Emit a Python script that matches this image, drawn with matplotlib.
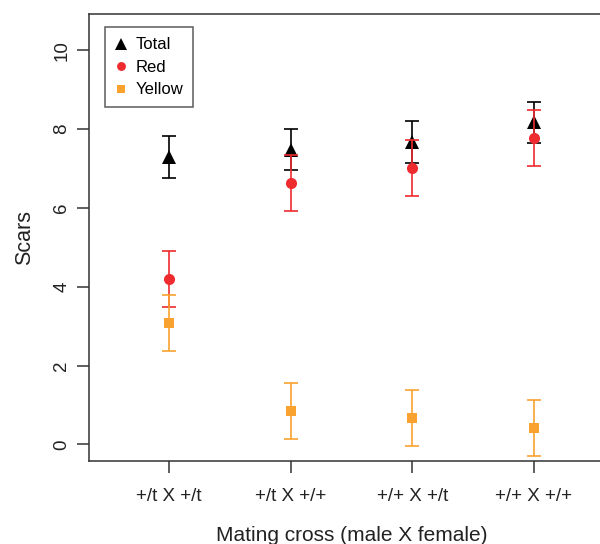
import numpy as np
import matplotlib.pyplot as plt

plt.rcParams['font.family'] = ['Liberation Sans', 'DejaVu Sans']

crosses = ['+/t X +/t', '+/t X +/+', '+/+ X +/t', '+/+ X +/+']
total_mean = [7.29, 7.48, 7.67, 8.17]
total_err = [0.54, 0.53, 0.53, 0.53]
red_mean = [4.19, 6.64, 7.01, 7.77]
red_err = [0.71, 0.71, 0.71, 0.71]
yellow_mean = [3.09, 0.85, 0.68, 0.42]
yellow_err = [0.71, 0.71, 0.71, 0.71]

RED = '#EE2B2F'
ORANGE = '#F9A22F'
AXCOL = '#333333'


def main():
    fig = plt.figure(figsize=(6, 5.44), dpi=100)
    # R-style plot region, right side runs off the picture
    ax = fig.add_axes([89 / 600, 83 / 544, 525 / 600, 447 / 544])
    x = np.arange(1, len(crosses) + 1)

    series = [
        (total_mean, total_err, 'black', '^', 10, 'Total'),
        (red_mean, red_err, RED, 'o', 8, 'Red'),
        (yellow_mean, yellow_err, ORANGE, 's', 7.5, 'Yellow'),
    ]
    for m, e, c, mk, ms, lab in series:
        ax.errorbar(x, m, yerr=e, fmt='none', ecolor=c, elinewidth=1.2,
                    capsize=4.7, capthick=1.2)
        ax.plot(x, m, linestyle='none', marker=mk, color=c, markersize=ms,
                markeredgewidth=0, label=lab)

    ax.set_xlim(0.34, 4.66)
    ax.set_ylim(-0.42, 10.92)
    ax.set_xticks(x)
    ax.set_xticklabels(crosses)
    ax.set_yticks([0, 2, 4, 6, 8, 10])
    ax.set_yticklabels(['0', '2', '4', '6', '8', '10'], rotation=90, va='center')
    ax.tick_params(axis='both', direction='out', length=8.5, width=1.1,
                   color=AXCOL, labelsize=13.5, labelcolor='#222222')
    ax.tick_params(axis='x', pad=11)
    ax.tick_params(axis='y', pad=5)
    for s in ax.spines.values():
        s.set_color(AXCOL)
        s.set_linewidth(1.1)

    ax.set_xlabel('Mating cross (male X female)', fontsize=15, color='#222222',
                  labelpad=15)
    ax.set_ylabel('Scars', fontsize=15.5, color='#222222', labelpad=13)

    leg = ax.legend(loc='upper left', bbox_to_anchor=(0.03, 0.97),
                    fontsize=12, frameon=True, fancybox=False, markerscale=0.8,
                    handlelength=0.8, handletextpad=0.45, labelspacing=0.45,
                    borderpad=0.6, borderaxespad=0)
    leg.get_frame().set_edgecolor(AXCOL)
    leg.get_frame().set_linewidth(1.1)

    fig.savefig('out.png', dpi=100)


if __name__ == '__main__':
    main()
